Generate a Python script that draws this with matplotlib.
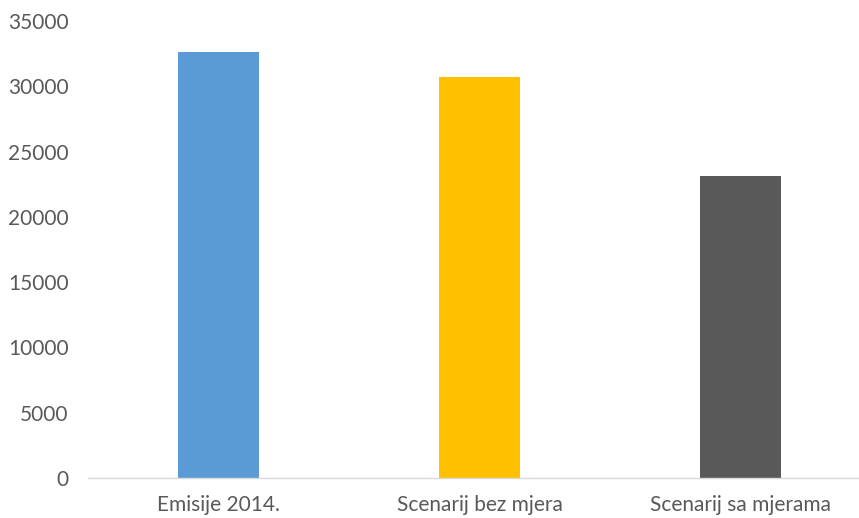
import matplotlib
matplotlib.use("Agg")
import matplotlib.pyplot as plt

categories = ["Emisije 2014.", "Scenarij bez mjera", "Scenarij sa mjerama"]
values = [32650, 30700, 23120]
colors = ["#5B9BD5", "#FFC000", "#595959"]
yticks = [0, 5000, 10000, 15000, 20000, 25000, 30000, 35000]

plt.rcParams['font.family'] = ['Lato', 'DejaVu Sans']

fig = plt.figure(figsize=(8.59, 5.18), dpi=100)
ax = fig.add_axes([88/859, 40/518, (859-88)/859, (478-21)/518])
x = list(range(len(categories)))
ax.bar(x, values, width=0.31, color=colors)
ax.set_xlim(-0.5, (859-218.5)/261)
ax.set_ylim(0, 35000)
ax.set_yticks(yticks)
ax.set_yticklabels([str(t) for t in yticks])
ax.set_xticks(x)
ax.set_xticklabels(categories)
for s in ["top", "right", "left"]:
    ax.spines[s].set_visible(False)
ax.spines["bottom"].set_color("#D9D9D9")
ax.spines["bottom"].set_linewidth(1)
ax.tick_params(axis="y", length=0, pad=14, labelsize=15, labelcolor="#595959")
ax.tick_params(axis="x", length=0, pad=12, labelsize=15, labelcolor="#595959")
fig.savefig("out.png", dpi=100)
